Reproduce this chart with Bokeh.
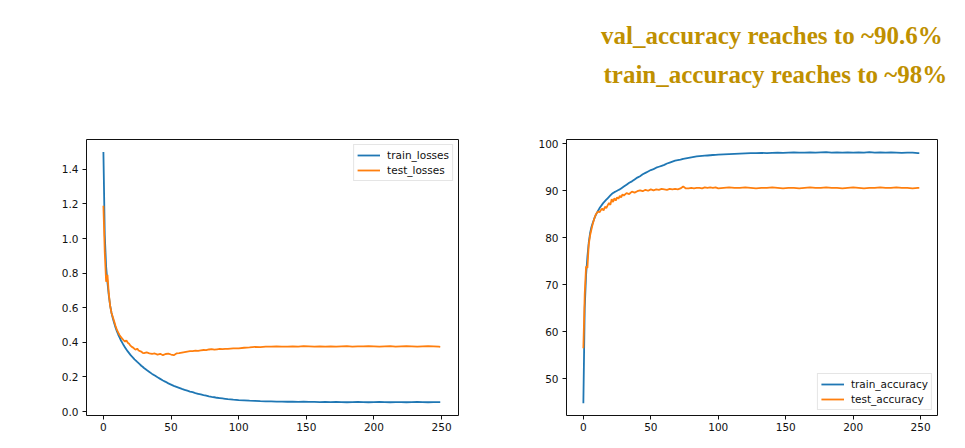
from bokeh.plotting import figure
from bokeh.models import Range1d, Label, Legend, LegendItem, FixedTicker, PrintfTickFormatter
from bokeh.layouts import column, row
from bokeh.embed import file_html
from bokeh.resources import INLINE

# ---------------- data ----------------
epochs = [0, 1, 2, 3, 4, 5, 6, 7, 8, 9, 10, 11, 12, 13, 14, 15, 16, 17, 18, 19, 20,
          21, 22, 23, 24, 25, 26, 27, 28, 29, 30,
          32, 34, 36, 38, 40, 42, 44, 46, 48, 50, 52, 54, 56, 58, 60, 62, 64, 66, 68, 70,
          72, 74, 76, 78, 80, 82, 84, 86, 88, 90, 92, 94, 96, 98, 100,
          104, 108, 112, 116, 120, 124, 128, 132, 136, 140, 144, 148, 152, 156, 160, 164,
          168, 172, 176, 180, 184, 188, 192, 196, 200, 204, 208, 212, 216, 220, 224, 228,
          232, 236, 240, 244, 248, 249]

train_losses = [1.500, 1.020, 0.840, 0.745, 0.670, 0.612, 0.570, 0.538, 0.510, 0.485, 0.463,
                0.444, 0.427, 0.411, 0.397, 0.383, 0.371, 0.359, 0.348, 0.338, 0.328,
                0.319, 0.311, 0.302, 0.295, 0.287, 0.280, 0.273, 0.265, 0.259, 0.252,
                0.240, 0.229, 0.218, 0.208, 0.198, 0.189, 0.180, 0.172, 0.163, 0.156,
                0.149, 0.143, 0.137, 0.131, 0.126, 0.121, 0.116, 0.112, 0.107, 0.103,
                0.099, 0.095, 0.092, 0.088, 0.085, 0.083, 0.080, 0.078, 0.076, 0.074,
                0.072, 0.071, 0.069, 0.068, 0.066,
                0.065, 0.063, 0.062, 0.060, 0.059, 0.059, 0.058, 0.058, 0.057, 0.057,
                0.056, 0.057, 0.056, 0.056, 0.055, 0.056, 0.055, 0.056, 0.055, 0.054,
                0.055, 0.056, 0.055, 0.054, 0.055, 0.056, 0.055, 0.054, 0.055, 0.055,
                0.054, 0.055, 0.056, 0.055, 0.054, 0.055, 0.055, 0.055]

test_losses = [1.190, 0.920, 0.750, 0.790, 0.680, 0.610, 0.570, 0.545, 0.520, 0.495, 0.472,
               0.456, 0.442, 0.430, 0.421, 0.412, 0.405, 0.412, 0.398, 0.392, 0.381,
               0.374, 0.370, 0.362, 0.358, 0.364, 0.353, 0.350, 0.347, 0.340, 0.338,
               0.342, 0.337, 0.334, 0.336, 0.329, 0.334, 0.326, 0.333, 0.335, 0.330,
               0.326, 0.336, 0.338, 0.341, 0.344, 0.347, 0.349, 0.350, 0.352, 0.351,
               0.354, 0.356, 0.355, 0.359, 0.361, 0.358, 0.360, 0.362, 0.361, 0.363,
               0.362, 0.364, 0.366, 0.365, 0.366,
               0.369, 0.371, 0.374, 0.373, 0.376, 0.375, 0.377, 0.376, 0.376, 0.377,
               0.376, 0.378, 0.377, 0.376, 0.377, 0.376, 0.377, 0.376, 0.377, 0.378,
               0.376, 0.377, 0.377, 0.378, 0.377, 0.376, 0.377, 0.378, 0.376, 0.377,
               0.378, 0.377, 0.376, 0.377, 0.378, 0.377, 0.375, 0.374]

train_accuracy = [44.8, 65.0, 72.0, 76.0, 79.0, 81.0, 82.3, 83.2, 84.0, 84.7, 85.3,
                  85.8, 86.3, 86.7, 87.1, 87.5, 87.8, 88.1, 88.4, 88.7, 89.0,
                  89.3, 89.5, 89.7, 89.85, 90.0, 90.15, 90.3, 90.5, 90.7, 90.9,
                  91.3, 91.7, 92.0, 92.4, 92.8, 93.1, 93.5, 93.8, 94.1, 94.4,
                  94.6, 94.9, 95.1, 95.3, 95.5, 95.8, 96.0, 96.2, 96.4, 96.5,
                  96.6, 96.8, 96.9, 97.0, 97.1, 97.2, 97.3, 97.35, 97.4, 97.45,
                  97.5, 97.55, 97.6, 97.65, 97.7,
                  97.75, 97.8, 97.85, 97.9, 97.95, 98.0, 98.0, 98.05, 98.0, 98.05,
                  98.1, 98.05, 98.1, 98.15, 98.1, 98.1, 98.15, 98.1, 98.15, 98.2,
                  98.1, 98.15, 98.1, 98.15, 98.1, 98.15, 98.1, 98.2, 98.1, 98.15,
                  98.1, 98.15, 98.1, 98.05, 98.1, 98.1, 98.0, 98.0]

test_accuracy = [56.5, 68.0, 73.9, 73.6, 78.6, 80.5, 81.8, 83.0, 84.0, 84.8, 85.3,
                 85.6, 85.4, 85.9, 86.2, 85.8, 86.6, 86.3, 86.9, 87.4, 87.0,
                 88.2, 87.6, 88.4, 87.9, 88.6, 88.3, 88.9, 88.6, 89.2, 89.0,
                 89.5, 89.3, 89.8, 89.6, 89.9, 90.1, 89.9, 90.2, 90.0, 90.3,
                 90.1, 90.3, 90.2, 90.4, 90.3, 90.2, 90.4, 90.3, 90.4, 90.3,
                 90.5, 90.9, 90.5, 90.5, 90.6, 90.5, 90.6, 90.6, 90.5, 90.7,
                 90.6, 90.7, 90.6, 90.7, 90.5,
                 90.6, 90.7, 90.6, 90.6, 90.7, 90.6, 90.5, 90.6, 90.6, 90.7,
                 90.6, 90.5, 90.6, 90.6, 90.5, 90.6, 90.7, 90.6, 90.6, 90.7,
                 90.6, 90.6, 90.5, 90.6, 90.7, 90.6, 90.5, 90.6, 90.6, 90.7,
                 90.6, 90.6, 90.7, 90.6, 90.6, 90.5, 90.6, 90.6]

x_ticks = [0, 50, 100, 150, 200, 250]
loss_ticks = [0.0, 0.2, 0.4, 0.6, 0.8, 1.0, 1.2, 1.4]
acc_ticks = [50, 60, 70, 80, 90, 100]

headline_1 = "val_accuracy reaches to ~90.6%"
headline_2 = "train_accuracy reaches to ~98%"

BLUE = "#1f77b4"
ORANGE = "#ff7f0e"
GOLD = "#bf9000"
TICK_FONT = "DejaVu Sans"

# ---------------- header with the gold text ----------------
header = figure(width=957, height=108, output_backend="svg", toolbar_location=None,
                x_range=Range1d(0, 957), y_range=Range1d(108, 0),
                min_border=0, outline_line_color=None)
header.axis.visible = False
header.grid.visible = False
header.add_layout(Label(x=600.5, y=35, text=headline_1, text_font="Liberation Serif",
                        text_font_style="bold", text_font_size="25px", text_color=GOLD,
                        text_baseline="alphabetic"))
header.add_layout(Label(x=603, y=74, text=headline_2, text_font="Liberation Serif",
                        text_font_style="bold", text_font_size="25px", text_color=GOLD,
                        text_baseline="alphabetic"))


def style(p, yticks, yfmt):
    p.grid.visible = False
    p.outline_line_color = "#111111"
    p.outline_line_width = 1
    for ax in (p.xaxis[0], p.yaxis[0]):
        ax.axis_line_color = None
        ax.major_tick_line_color = "#111111"
        ax.major_tick_line_width = 1
        ax.major_tick_out = 4
        ax.major_tick_in = 0
        ax.minor_tick_line_color = None
        ax.major_label_text_font = TICK_FONT
        ax.major_label_text_font_size = "10.5px"
        ax.major_label_text_color = "#111111"
    p.xaxis[0].ticker = FixedTicker(ticks=x_ticks)
    p.xaxis[0].major_label_standoff = 3
    p.yaxis[0].ticker = FixedTicker(ticks=yticks)
    p.yaxis[0].formatter = PrintfTickFormatter(format=yfmt)
    p.yaxis[0].major_label_standoff = 4


def add_legend(p, r1, r2, n1, n2, loc):
    leg = Legend(items=[LegendItem(label=n1, renderers=[r1]),
                        LegendItem(label=n2, renderers=[r2])],
                 location=loc, margin=5, padding=3, spacing=1,
                 glyph_width=23, glyph_height=14, label_height=14, label_standoff=7,
                 label_text_font=TICK_FONT, label_text_font_size="10.5px",
                 label_text_color="#111111",
                 border_line_color="#cccccc", border_line_width=1,
                 background_fill_color="white", background_fill_alpha=0.8)
    p.add_layout(leg)


# ---------------- left: losses ----------------
p1 = figure(width=488, height=332, output_backend="svg", toolbar_location=None,
            x_range=Range1d(-12.5, 262.5), y_range=Range1d(-0.0225, 1.5725),
            min_border_left=86, min_border_right=30, min_border_top=31, min_border_bottom=25)
r1 = p1.line(epochs, train_losses, line_color=BLUE, line_width=1.8)
r2 = p1.line(epochs, test_losses, line_color=ORANGE, line_width=1.8)
style(p1, loss_ticks, "%.1f")
add_legend(p1, r1, r2, "train_losses", "test_losses", "top_right")

# ---------------- right: accuracy ----------------
p2 = figure(width=469, height=332, output_backend="svg", toolbar_location=None,
            x_range=Range1d(-12.5, 262.5), y_range=Range1d(42.2, 100.9),
            min_border_left=78, min_border_right=20, min_border_top=31, min_border_bottom=25)
r3 = p2.line(epochs, train_accuracy, line_color=BLUE, line_width=1.8)
r4 = p2.line(epochs, test_accuracy, line_color=ORANGE, line_width=1.8)
style(p2, acc_ticks, "%d")
add_legend(p2, r3, r4, "train_accuracy", "test_accuracy", "bottom_right")

layout = column(header, row(p1, p2))

open("out.html", "w").write(file_html(layout, INLINE))
